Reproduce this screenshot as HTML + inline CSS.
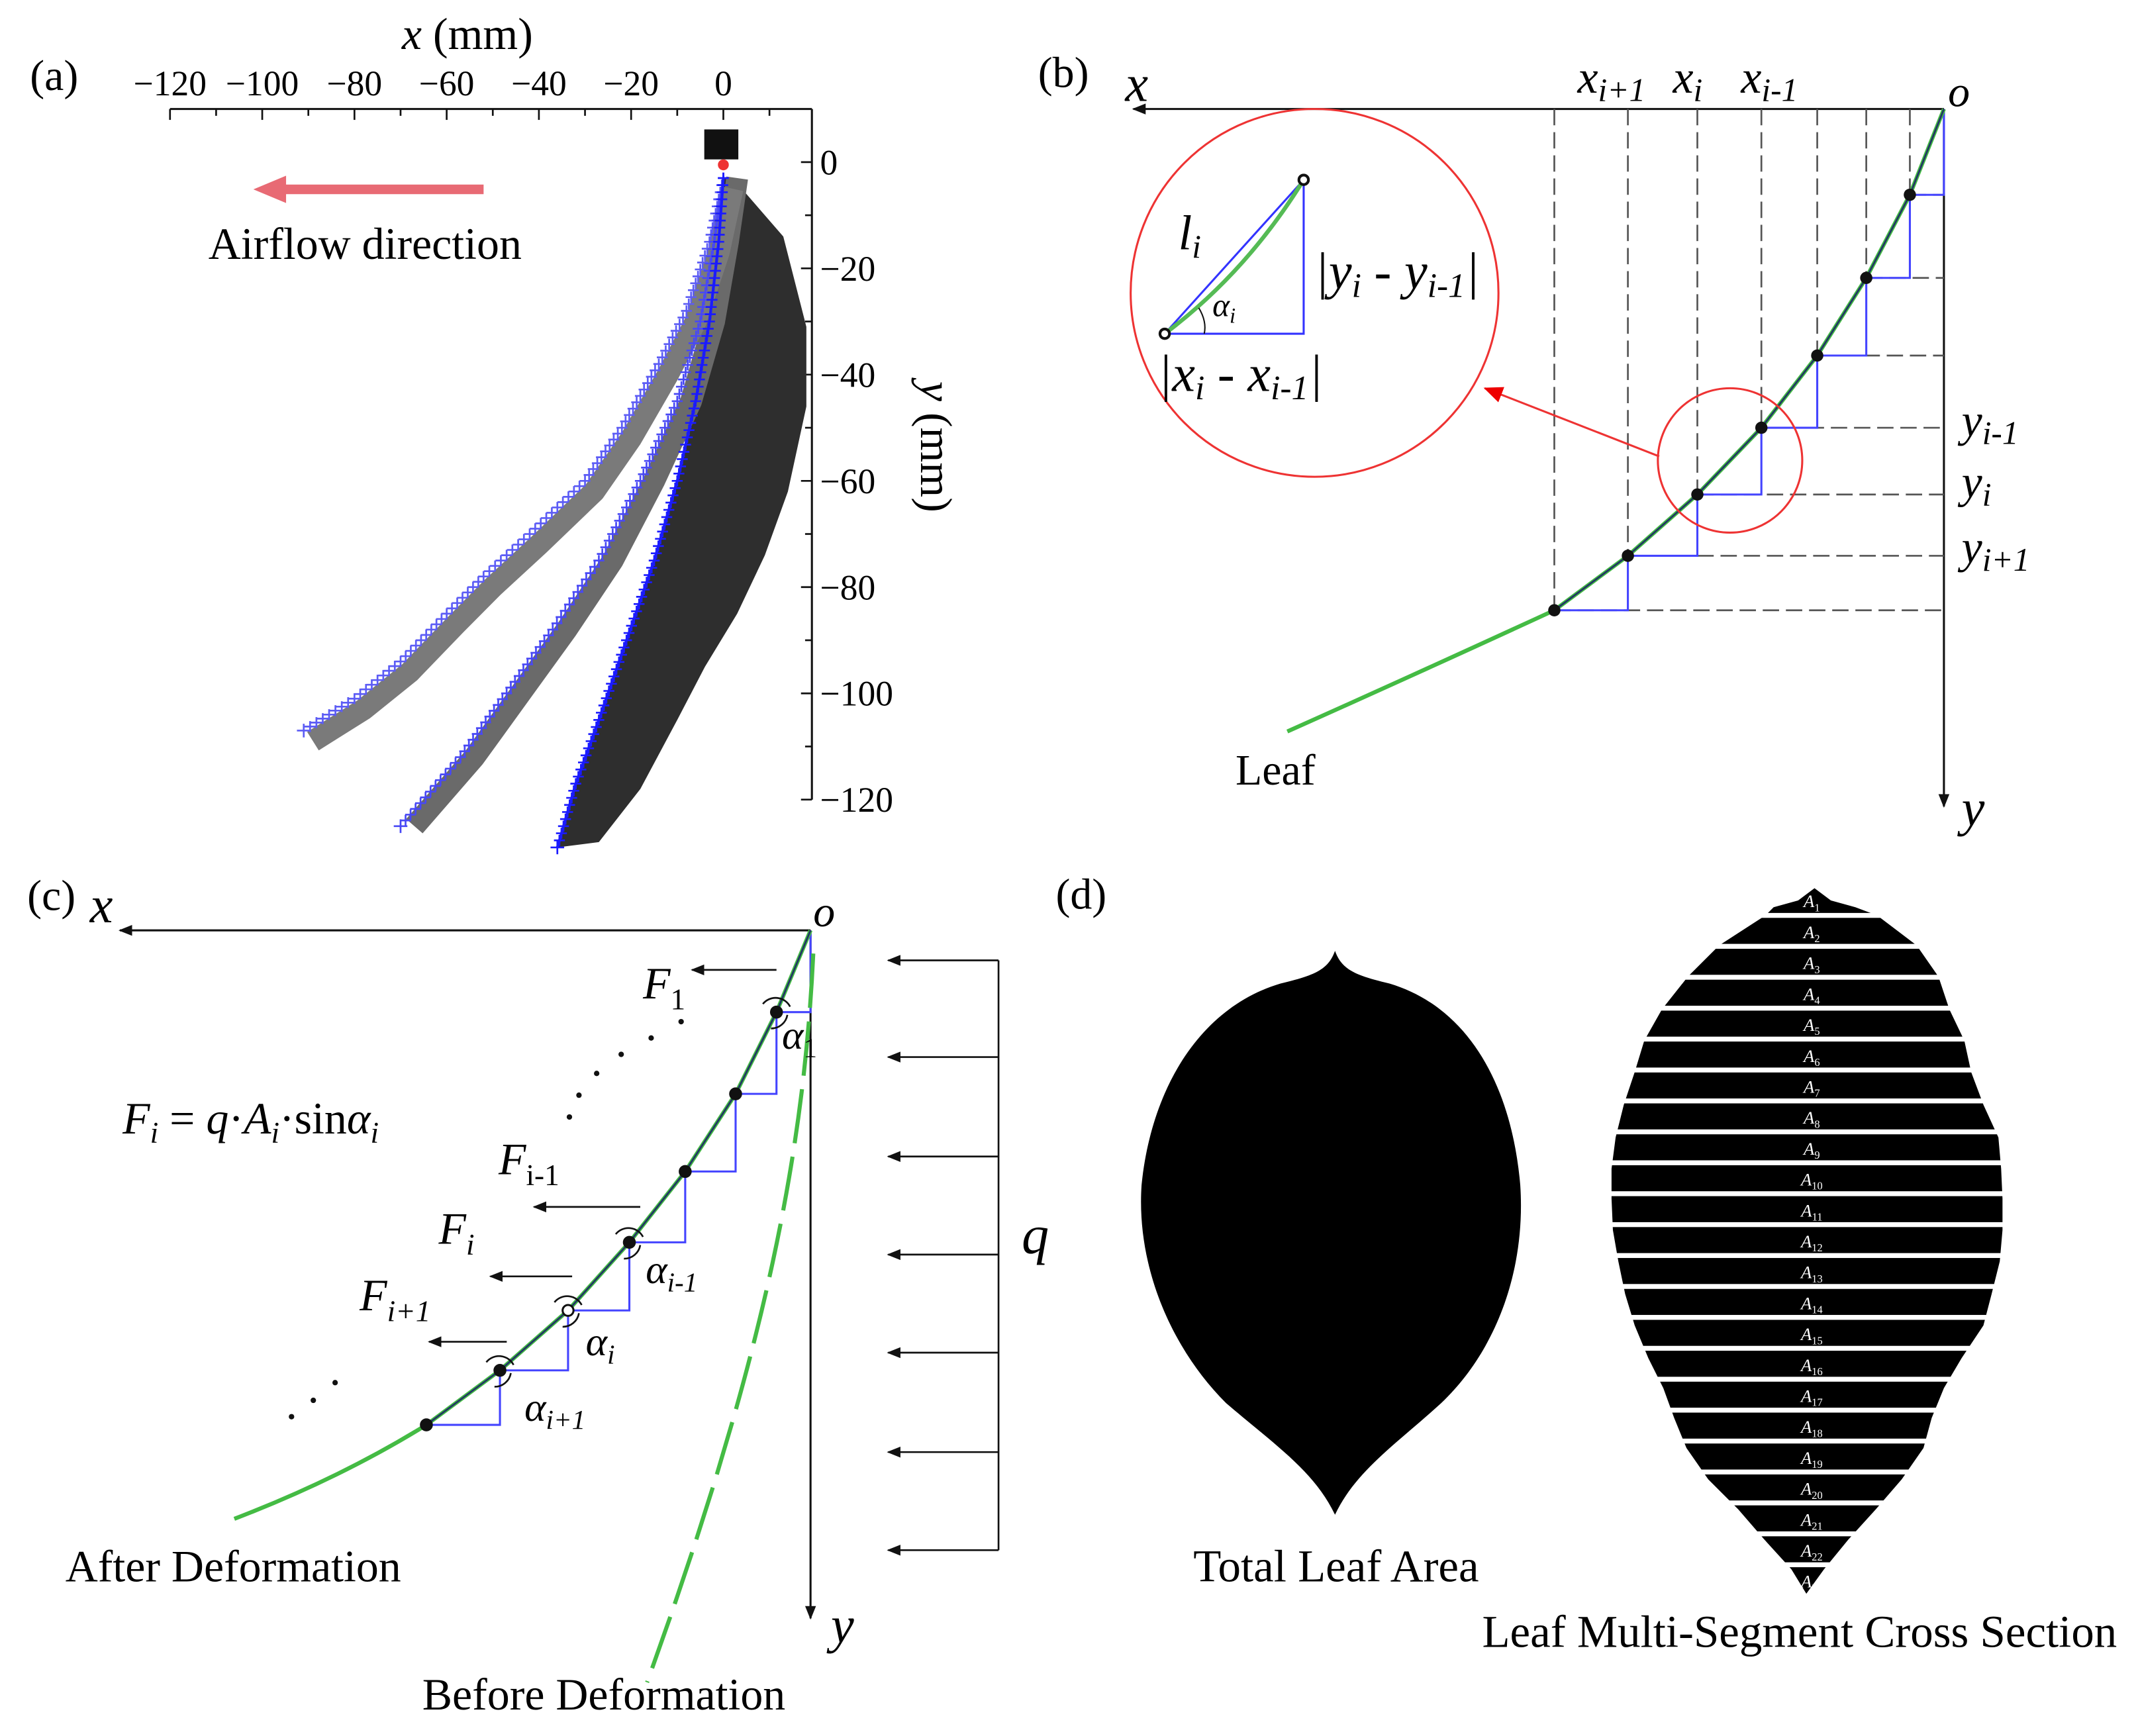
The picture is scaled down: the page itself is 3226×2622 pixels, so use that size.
<!DOCTYPE html>
<html><head><meta charset="utf-8">
<style>
html,body{margin:0;padding:0;background:#fff;}
svg{display:block;font-family:"Liberation Serif",serif;}
</style></head>
<body>
<svg id="fig" width="3226" height="2622" viewBox="0 0 1568 1274.4" xmlns="http://www.w3.org/2000/svg">
<defs>
<marker id="ah" markerWidth="10" markerHeight="8" refX="9" refY="4" orient="auto" markerUnits="userSpaceOnUse"><path d="M0,0 L10,4 L0,8 Z" fill="#111"/></marker>
<marker id="ahr" markerWidth="14" markerHeight="12" refX="13" refY="6" orient="auto" markerUnits="userSpaceOnUse"><path d="M0,0 L14,6 L0,12 Z" fill="#e00"/></marker>
</defs>

<!-- Panel (a) -->
<g>
<text x="22" y="66" font-size="32">(a)</text>
<text x="295" y="36" font-size="33"><tspan font-style="italic">x</tspan> (mm)</text>
<g id="aAxes"></g>
<text transform="translate(676,328) rotate(90)" font-size="33" text-anchor="middle"><tspan font-style="italic">y</tspan> (mm)</text>
<rect x="517" y="95" width="25" height="22" fill="#111"/>
<g id="leaves"></g>
<g id="traces"></g>
<circle cx="531" cy="121" r="4" fill="#e33"/>
<line x1="355" y1="139" x2="205" y2="139" stroke="#e86a74" stroke-width="7"/>
<path d="M186,139 L210,129 L210,149 Z" fill="#e86a74"/>
<text x="153" y="190" font-size="33">Airflow direction</text>
</g>

<!-- Panel (b) -->
<g id="panelB">
<text x="762" y="64" font-size="32">(b)</text>
<line x1="1427" y1="80" x2="832" y2="80" stroke="#111" stroke-width="1.5" marker-end="url(#ah)"/>
<line x1="1427" y1="80" x2="1427" y2="592" stroke="#111" stroke-width="1.5" marker-end="url(#ah)"/>
<text x="826" y="74" font-size="38" font-style="italic">x</text>
<text x="1430" y="78" font-size="32" font-style="italic">o</text>
<text x="1440" y="606" font-size="38" font-style="italic">y</text>
<text x="1158" y="68" font-size="34" font-style="italic">x<tspan font-size="24" dy="6">i+1</tspan></text>
<text x="1228" y="68" font-size="34" font-style="italic">x<tspan font-size="24" dy="6">i</tspan></text>
<text x="1278" y="68" font-size="34" font-style="italic">x<tspan font-size="24" dy="6">i-1</tspan></text>
<text x="1440" y="320" font-size="34" font-style="italic">y<tspan font-size="24" dy="6">i-1</tspan></text>
<text x="1440" y="365" font-size="34" font-style="italic">y<tspan font-size="24" dy="6">i</tspan></text>
<text x="1440" y="413" font-size="34" font-style="italic">y<tspan font-size="24" dy="6">i+1</tspan></text>
<text x="907" y="576" font-size="32">Leaf</text>
<g id="bCurve"></g>
<circle cx="1270" cy="338" r="53" fill="none" stroke="#e33" stroke-width="1.5"/>
<line x1="1218" y1="335" x2="1090" y2="285" stroke="#e33" stroke-width="1.5" marker-end="url(#ahr)"/>
<circle cx="965" cy="215" r="135" fill="none" stroke="#e33" stroke-width="1.5"/>
<path d="M855,245 L957,245 L957,132 Z" fill="none" stroke="#33f" stroke-width="1.5"/>
<path d="M855,245 Q915,200 957,132" fill="none" stroke="#5b5" stroke-width="3"/>
<circle cx="855" cy="245" r="3.5" fill="#fff" stroke="#111" stroke-width="2"/>
<circle cx="957" cy="132" r="3.5" fill="#fff" stroke="#111" stroke-width="2"/>
<path d="M880,226 Q886,236 884,245" fill="none" stroke="#111"/>
<text x="865" y="183" font-size="36" font-style="italic">l<tspan font-size="24" dy="6">i</tspan></text>
<text x="890" y="232" font-size="24" font-style="italic">α<tspan font-size="16" dy="5">i</tspan></text>
<text x="965" y="212" font-size="38" font-style="italic">|y<tspan font-size="25" dy="6">i</tspan><tspan dy="-6"> - y</tspan><tspan font-size="25" dy="6">i-1</tspan><tspan dy="-6">|</tspan></text>
<text x="850" y="287" font-size="38" font-style="italic">|x<tspan font-size="25" dy="6">i</tspan><tspan dy="-6"> - x</tspan><tspan font-size="25" dy="6">i-1</tspan><tspan dy="-6">|</tspan></text>
</g>

<!-- Panel (c) -->
<g id="panelC">
<text x="20" y="668" font-size="32">(c)</text>
<line x1="595" y1="683" x2="88" y2="683" stroke="#111" stroke-width="1.5" marker-end="url(#ah)"/>
<line x1="595" y1="683" x2="595" y2="1188" stroke="#111" stroke-width="1.5" marker-end="url(#ah)"/>
<text x="66" y="677" font-size="38" font-style="italic">x</text>
<text x="597" y="680" font-size="32" font-style="italic">o</text>
<text x="610" y="1206" font-size="38" font-style="italic">y</text>
<g id="cCurve"></g>
<path d="M597,700 C590,850 560,1000 475,1235" fill="none" stroke="#4b4" stroke-width="3" stroke-dasharray="40,10"/>
<g id="qArrows"></g>
<text x="750" y="920" font-size="40" font-style="italic">q</text>
<text x="90" y="832" font-size="33" font-style="italic">F<tspan font-size="22" dy="7">i</tspan><tspan dy="-7" font-style="normal"> = </tspan>q<tspan font-style="normal">·</tspan>A<tspan font-size="22" dy="7">i</tspan><tspan dy="-7" font-style="normal">·sin</tspan>α<tspan font-size="22" dy="7">i</tspan></text>
<text x="472" y="733" font-size="33" font-style="italic">F<tspan font-size="22" dy="8" font-style="normal">1</tspan></text>
<text x="366" y="862" font-size="33" font-style="italic">F<tspan font-size="22" dy="8" font-style="normal">i-1</tspan></text>
<text x="322" y="913" font-size="33" font-style="italic">F<tspan font-size="22" dy="8">i</tspan></text>
<text x="264" y="962" font-size="33" font-style="italic">F<tspan font-size="22" dy="8">i+1</tspan></text>
<text x="574" y="770" font-size="30" font-style="italic">α<tspan font-size="20" dy="6" font-style="normal">1</tspan></text>
<text x="474" y="942" font-size="30" font-style="italic">α<tspan font-size="20" dy="6">i-1</tspan></text>
<text x="430" y="995" font-size="30" font-style="italic">α<tspan font-size="20" dy="6">i</tspan></text>
<text x="385" y="1043" font-size="30" font-style="italic">α<tspan font-size="20" dy="6">i+1</tspan></text>
<g fill="#111"><circle cx="500" cy="750" r="2"/><circle cx="478" cy="762" r="2"/><circle cx="456" cy="774" r="2"/><circle cx="438" cy="788" r="2"/><circle cx="425" cy="804" r="2"/><circle cx="418" cy="820" r="2"/>
<circle cx="214" cy="1040" r="2"/><circle cx="230" cy="1028" r="2"/><circle cx="246" cy="1015" r="2"/></g>
<text x="48" y="1161" font-size="33">After Deformation</text>
<text x="310" y="1255" font-size="33">Before Deformation</text>
</g>

<!-- Panel (d) -->
<g id="panelD">
<text x="775" y="667" font-size="32">(d)</text>
<path fill="#000" d="M980,698 C975,712 965,716 940,722 C880,740 845,800 838,870 C834,930 860,990 900,1030 C935,1060 965,1080 980,1112 C995,1080 1025,1060 1058,1030 C1100,990 1120,930 1116,870 C1110,800 1080,740 1020,722 C995,716 985,712 980,698 Z"/>
<g id="segLeaf"></g>
<text x="876" y="1161" font-size="33.5">Total Leaf Area</text>
<text x="1088" y="1209" font-size="33.5">Leaf Multi-Segment Cross Section</text>
</g>
</svg>
<script>
const NS="http://www.w3.org/2000/svg";
// ---- Panel (a) data ----
const xTicks=[-120,-100,-80,-60,-40,-20,0];
const yTicks=[0,-20,-40,-60,-80,-100,-120];
const trace1X=[0,-3,-8,-14,-22,-30,-42,-52,-60,-70,-80,-91];
const trace1Y=[-3,-15,-28,-38,-50,-60,-70,-78,-85,-94,-101,-107];
const trace2X=[0,-2,-5,-10,-18,-27,-37,-47,-57,-70];
const trace2Y=[-3,-15,-30,-45,-60,-75,-88,-100,-112,-125];
const trace3X=[0,-1,-3,-6,-10,-15,-21,-27,-32,-36];
const trace3Y=[-3,-15,-30,-45,-60,-75,-90,-105,-117,-129];
const leafEdgeX=[2,13,18,18,14,9,3,-4,-10,-18,-27,-36];
const leafEdgeY=[-3,-14,-31,-46,-62,-74,-85,-95,-105,-118,-128,-129];

const sx=v=>531+v*3.385, sy=v=>119-v*3.9;
function el(tag,attrs,parent){const e=document.createElementNS(NS,tag);for(const k in attrs)e.setAttribute(k,attrs[k]);parent.appendChild(e);return e;}
const aAx=document.getElementById('aAxes');
const xl=el('line',{x1:sx(-120),y1:80,x2:596,y2:80,stroke:'#111','stroke-width':1.5},aAx);


const yl=el('line',{x1:596,y1:80,x2:596,y2:sy(-120),stroke:'#111','stroke-width':1.5},aAx);


for(let v=-120;v<=10;v+=10){el('line',{x1:sx(v),y1:80,x2:sx(v),y2:v%20===0?88:85,stroke:'#111','stroke-width':1.3},aAx);}
for(let v=0;v>=-120;v-=10){el('line',{x1:596,y1:sy(v),x2:v%20===0?588:591,y2:sy(v),stroke:'#111','stroke-width':1.3},aAx);}
xTicks.forEach(v=>{const t=el('text',{x:sx(v),y:70,'font-size':26,'text-anchor':'middle'},aAx);t.textContent=(v<0?'\u2212'+(-v):v);

});
yTicks.forEach(v=>{const t=el('text',{x:602,y:sy(v)+9,'font-size':26},aAx);t.textContent=(v<0?'\u2212'+(-v):v);

});

const lv=document.getElementById('leaves');
const pts=(X,Y)=>X.map((x,i)=>sx(x)+','+sy(Y[i])).join(' ');
const edgeRev=leafEdgeX.map((x,i)=>sx(x)+','+sy(leafEdgeY[i])).reverse().join(' ');
const dk=el('polygon',{points:pts(trace3X,trace3Y)+' '+edgeRev,fill:'#2e2e2e'},lv);


const l2=el('polyline',{points:pts(trace2X.map(v=>v+3),trace2Y),fill:'none',stroke:'#6a6a6a','stroke-width':16,'stroke-linejoin':'round'},lv);


const l1=el('polyline',{points:pts(trace1X.map(v=>v+2),trace1Y.map(v=>v-2)),fill:'none',stroke:'#7a7a7a','stroke-width':16,'stroke-linejoin':'round'},lv);



const tr=document.getElementById('traces');
function drawTrace(X,Y,color,name,line){
  const g=el('g',{},tr);
  
  
  const P=X.map((x,i)=>[sx(x),sy(Y[i])]);
  if(line)el('polyline',{points:P.map(p=>p.join(',')).join(' '),fill:'none',stroke:color,'stroke-width':2},g);
  let d='';
  for(let i=0;i<P.length-1;i++){const [x0,y0]=P[i],[x1,y1]=P[i+1];const L=Math.hypot(x1-x0,y1-y0);const n=Math.max(1,Math.round(L/5.5));
    for(let k=0;k<n;k++){const x=x0+(x1-x0)*k/n,y=y0+(y1-y0)*k/n;d+=`M${x-4},${y}h8M${x},${y-4}v8`;}}
  const [xe,ye]=P[P.length-1];d+=`M${xe-5},${ye}h10M${xe},${ye-5}v10`;
  el('path',{d:d,stroke:color,'stroke-width':1.3,fill:'none'},g);
}
drawTrace(trace1X,trace1Y,'#5c5cf5','trace-1',false);
drawTrace(trace2X,trace2Y,'#4848f5','trace-2',false);
drawTrace(trace3X,trace3Y,'#1a1aff','trace-3',true);

// ---- Panel (b) ----
const bPtsX=[1427,1402,1370,1334,1293,1246,1195,1141];
const bPtsY=[80,143,204,261,314,363,408,448];
const bc=document.getElementById('bCurve');
for(let i=1;i<bPtsX.length;i++){
  el('line',{x1:bPtsX[i],y1:80,x2:bPtsX[i],y2:bPtsY[i],stroke:'#555','stroke-width':1.3,'stroke-dasharray':'12,5'},bc);
  el('line',{x1:bPtsX[i],y1:bPtsY[i],x2:1427,y2:bPtsY[i],stroke:'#555','stroke-width':1.3,'stroke-dasharray':'12,5'},bc);
}
let sd='';for(let i=bPtsX.length-1;i>0;i--){sd+=`M${bPtsX[i]},${bPtsY[i]}H${bPtsX[i-1]}V${bPtsY[i-1]}`;}
el('path',{d:sd,stroke:'#44f','stroke-width':1.5,fill:'none'},bc);
const bg=el('path',{d:`M945,537 Q1050,490 1141,448`,stroke:'#4b4',fill:'none','stroke-width':3},bc);


el('polyline',{points:bPtsX.map((x,i)=>x+','+bPtsY[i]).join(' '),fill:'none',stroke:'#4b4','stroke-width':3},bc);
el('polyline',{points:bPtsX.map((x,i)=>x+','+bPtsY[i]).join(' '),fill:'none',stroke:'#236','stroke-width':1.3},bc);
for(let i=1;i<bPtsX.length;i++)el('circle',{cx:bPtsX[i],cy:bPtsY[i],r:4.5,fill:'#111'},bc);

// ---- Panel (c) ----
const cPtsX=[595,570,540,503,462,417,367,313];
const cPtsY=[683,743,803,860,912,962,1006,1046];
const cc=document.getElementById('cCurve');
let cd='';for(let i=cPtsX.length-1;i>0;i--){cd+=`M${cPtsX[i]},${cPtsY[i]}H${cPtsX[i-1]}V${cPtsY[i-1]}`;}
el('path',{d:cd,stroke:'#44f','stroke-width':1.5,fill:'none'},cc);
const cg=el('path',{d:`M172,1115 Q250,1085 313,1046`,stroke:'#4b4',fill:'none','stroke-width':3},cc);


el('polyline',{points:cPtsX.map((x,i)=>x+','+cPtsY[i]).join(' '),fill:'none',stroke:'#4b4','stroke-width':3},cc);
el('polyline',{points:cPtsX.map((x,i)=>x+','+cPtsY[i]).join(' '),fill:'none',stroke:'#236','stroke-width':1.3},cc);
for(let i=1;i<cPtsX.length;i++)el('circle',{cx:cPtsX[i],cy:cPtsY[i],r:4,fill:i===5?'#fff':'#111',stroke:'#111','stroke-width':1.5},cc);
const fArr=[[570,712,508],[470,886,392],[420,937,360],[372,985,315]];
fArr.forEach(a=>{const f=el('line',{x1:a[0],y1:a[1],x2:a[2],y2:a[1],stroke:'#111','stroke-width':1.3,'marker-end':'url(#ah)'},cc);

});
[[570,743],[462,912],[417,962],[367,1006]].forEach(p=>{el('path',{d:`M${p[0]-10},${p[1]-6} A12,12 0 0 1 ${p[0]+10},${p[1]-4}`,fill:'none',stroke:'#111','stroke-width':1.3},cc);
el('path',{d:`M${p[0]+8},${p[1]+2} A12,12 0 0 1 ${p[0]-4},${p[1]+12}`,fill:'none',stroke:'#111','stroke-width':1.3},cc);});
const qa=document.getElementById('qArrows');
el('line',{x1:733,y1:705,x2:733,y2:1138,stroke:'#111','stroke-width':1.3},qa);
[705,776,849,921,993,1066,1138].forEach(y=>{const q=el('line',{x1:733,y1:y,x2:652,y2:y,stroke:'#111','stroke-width':1.3,'marker-end':'url(#ah)'},qa);

});

// ---- Panel (d) segmented leaf ----
const sg=document.getElementById('segLeaf');
const profY=[652,661,666,672,694,717,741,764,787,811,835,858,880,903,926,950,973,997,1019,1041,1063,1086,1108,1130,1152,1170];
const profL=[1332,1320,1302,1296,1262,1239,1220,1207,1200,1192,1186,1183,1183,1184,1188,1193,1200,1210,1221,1229,1238,1254,1276,1295,1315,1326];
const profR=[1332,1344,1362,1378,1407,1423,1431,1442,1447,1456,1467,1469,1470,1470,1468,1462,1456,1440,1427,1418,1412,1396,1377,1357,1339,1326];
let lp='M'+profL[0]+','+profY[0];
profY.forEach((y,i)=>lp+=` L${profR[i]},${y}`);
for(let i=profY.length-1;i>=0;i--)lp+=` L${profL[i]},${profY[i]}`;
const sl=el('path',{d:lp+'Z',fill:'#000'},sg);


for(let k=0;k<22;k++){const y=672+k*22.7;el('rect',{x:1170,y:y-1.8,width:310,height:3.6,fill:'#fff'},sg);}
for(let k=0;k<23;k++){const y=661+k*22.7;const t=el('text',{x:1330,y:y+5,'font-size':13,fill:'#fff','text-anchor':'middle','font-style':'italic'},sg);
const ts=el('tspan',{'font-size':8,dy:3,'font-style':'normal'},t);
t.insertBefore(document.createTextNode('A'),ts);
ts.textContent=String(k+1);}
</script>
</body></html>
